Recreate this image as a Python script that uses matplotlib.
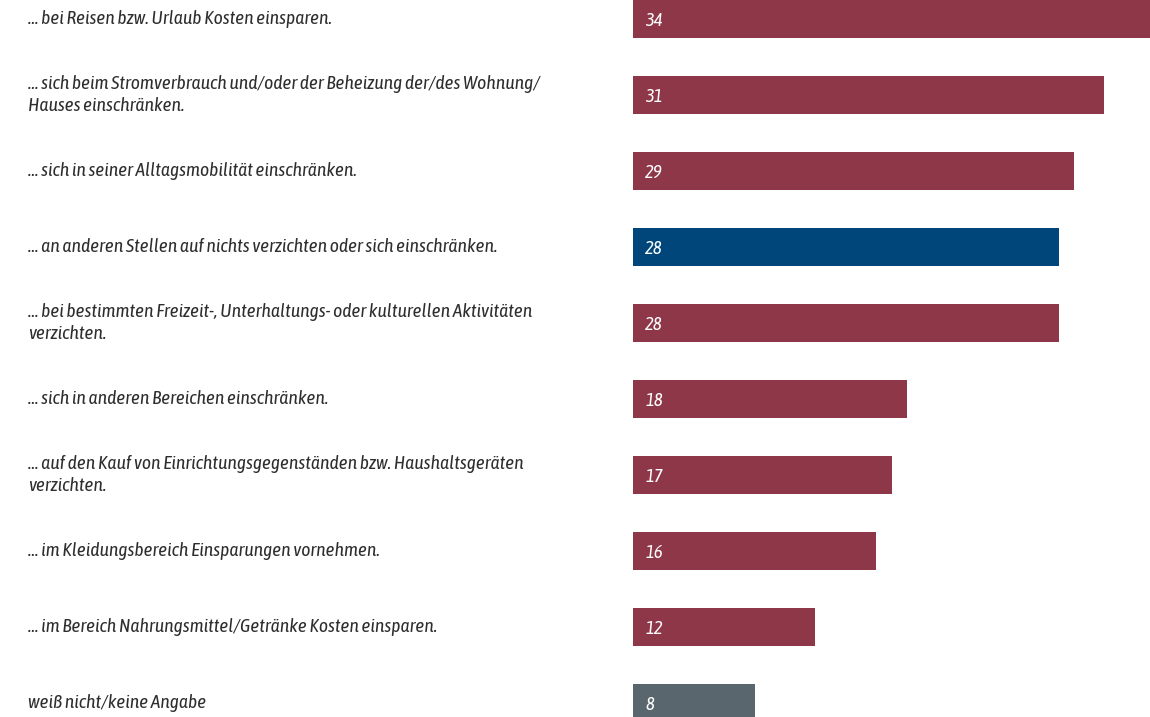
import matplotlib.pyplot as plt

# Daten
labels = [
    "... bei Reisen bzw. Urlaub Kosten einsparen.",
    "... sich beim Stromverbrauch und/oder der Beheizung der/des Wohnung/\nHauses einschränken.",
    "... sich in seiner Alltagsmobilität einschränken.",
    "... an anderen Stellen auf nichts verzichten oder sich einschränken.",
    "... bei bestimmten Freizeit-, Unterhaltungs- oder kulturellen Aktivitäten\nverzichten.",
    "... sich in anderen Bereichen einschränken.",
    "... auf den Kauf von Einrichtungsgegenständen bzw. Haushaltsgeräten\nverzichten.",
    "... im Kleidungsbereich Einsparungen vornehmen.",
    "... im Bereich Nahrungsmittel/Getränke Kosten einsparen.",
    "weiß nicht/keine Angabe",
]
values = [34, 31, 29, 28, 28, 18, 17, 16, 12, 8]
bar_colors = ["#8e3748", "#8e3748", "#8e3748", "#00467a", "#8e3748",
              "#8e3748", "#8e3748", "#8e3748", "#8e3748", "#5a666e"]

fam = ["Asap Condensed", "Liberation Sans Narrow", "DejaVu Sans"]

fig = plt.figure(figsize=(11.5, 7.17), dpi=100)
ax = fig.add_axes([633 / 1150, 0, 1 - 633 / 1150, 1])

pos = list(range(len(values)))
ax.barh(pos, values, height=0.5, color=bar_colors)
ax.set_xlim(0, 34)
ax.set_ylim((717 - 19) / 76, -0.25)
ax.axis("off")

# Werte in den Balken
for y, v in zip(pos, values):
    ax.text(0.8, y + 0.02, str(v), color="white", fontsize=13.5, fontstyle="italic",
            fontweight="light", family=fam, va="center", ha="left")

# Beschriftungen links
for y, lab in zip(pos, labels):
    yf = 1 - (19 + 76 * y) / 717
    fig.text(28 / 1150, yf, lab, color="#2e2e2e", fontsize=14, fontstyle="italic",
             fontweight="light", family=fam, va="center", ha="left",
             linespacing=1.25)

plt.savefig("out.png", dpi=100)
